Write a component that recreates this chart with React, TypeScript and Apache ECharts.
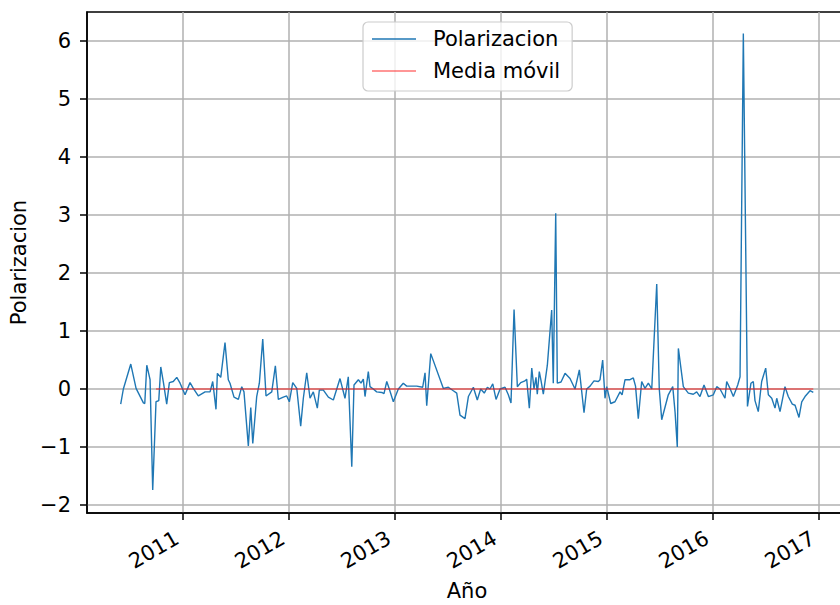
import React, { useEffect, useRef } from "react";
import * as echarts from "echarts";

// Decimal years of each observation
const years: number[] = [
  2010.412, 2010.437, 2010.507, 2010.557, 2010.626, 2010.639, 2010.658, 2010.689, 2010.714, 2010.745,
  2010.771, 2010.79, 2010.816, 2010.846, 2010.871, 2010.908, 2010.941, 2010.972, 2011.019, 2011.066,
  2011.097, 2011.144, 2011.208, 2011.255, 2011.28, 2011.311, 2011.324, 2011.356, 2011.396, 2011.427,
  2011.443, 2011.481, 2011.522, 2011.554, 2011.575, 2011.616, 2011.639, 2011.658, 2011.695, 2011.72,
  2011.752, 2011.783, 2011.837, 2011.871, 2011.899, 2011.946, 2011.978, 2012.003, 2012.035, 2012.073,
  2012.11, 2012.135, 2012.167, 2012.198, 2012.229, 2012.267, 2012.286, 2012.324, 2012.371, 2012.418,
  2012.481, 2012.528, 2012.559, 2012.592, 2012.613, 2012.654, 2012.679, 2012.701, 2012.717, 2012.748,
  2012.764, 2012.795, 2012.827, 2012.875, 2012.896, 2012.922, 2012.946, 2012.984, 2013.031, 2013.078,
  2013.11, 2013.205, 2013.261, 2013.283, 2013.299, 2013.337, 2013.456, 2013.503, 2013.55, 2013.582,
  2013.613, 2013.66, 2013.692, 2013.739, 2013.776, 2013.808, 2013.842, 2013.871, 2013.896, 2013.922,
  2013.953, 2013.991, 2014.038, 2014.069, 2014.094, 2014.123, 2014.154, 2014.186, 2014.226, 2014.242,
  2014.267, 2014.29, 2014.311, 2014.33, 2014.342, 2014.361, 2014.377, 2014.399, 2014.437, 2014.478,
  2014.493, 2014.516, 2014.531, 2014.566, 2014.604, 2014.651, 2014.698, 2014.739, 2014.783, 2014.808,
  2014.84, 2014.877, 2014.918, 2014.934, 2014.959, 2014.981, 2014.997, 2015.035, 2015.075, 2015.123,
  2015.142, 2015.17, 2015.217, 2015.248, 2015.269, 2015.295, 2015.327, 2015.358, 2015.39, 2015.422,
  2015.469, 2015.493, 2015.516, 2015.578, 2015.62, 2015.642, 2015.663, 2015.673, 2015.72, 2015.767,
  2015.814, 2015.846, 2015.877, 2015.915, 2015.956, 2016.003, 2016.035, 2016.066, 2016.113, 2016.129,
  2016.16, 2016.192, 2016.233, 2016.255, 2016.286, 2016.325, 2016.358, 2016.38, 2016.396, 2016.427,
  2016.459, 2016.497, 2016.522, 2016.554, 2016.585, 2016.601, 2016.632, 2016.679, 2016.71, 2016.748,
  2016.774, 2016.811, 2016.837, 2016.868, 2016.915, 2016.946,
];

const polarizacion: number[] = [
  -0.26, 0.0, 0.43, 0.01, -0.24, -0.25, 0.41, 0.16, -1.74, -0.22,
  -0.2, 0.38, 0.1, -0.26, 0.11, 0.13, 0.2, 0.1, -0.1, 0.11,
  0.01, -0.12, -0.05, -0.05, 0.13, -0.35, 0.27, 0.2, 0.8, 0.16,
  0.1, -0.14, -0.18, 0.04, -0.05, -0.98, -0.32, -0.94, -0.13, 0.1,
  0.86, -0.12, -0.05, 0.4, -0.18, -0.14, -0.12, -0.22, 0.11, 0.01,
  -0.64, -0.16, 0.28, -0.16, -0.05, -0.33, -0.02, -0.02, -0.14, -0.19,
  0.18, -0.16, 0.21, -1.34, 0.07, 0.16, 0.1, 0.17, -0.13, 0.3,
  0.04, 0.0, -0.05, -0.06, -0.08, 0.13, 0.0, -0.22, 0.0, 0.1,
  0.05, 0.05, 0.03, 0.28, -0.29, 0.61, 0.01, 0.03, -0.03, -0.07,
  -0.45, -0.51, -0.13, 0.03, -0.19, 0.0, -0.07, 0.03, 0.0, 0.09,
  -0.18, 0.0, 0.03, -0.1, -0.24, 1.37, 0.04, 0.11, 0.14, 0.17,
  -0.33, 0.36, 0.0, 0.2, -0.09, 0.3, 0.15, -0.09, 0.41, 1.36,
  0.1, 3.03, 0.1, 0.12, 0.27, 0.18, 0.0, 0.33, -0.41, 0.0,
  0.05, 0.14, 0.13, 0.16, 0.5, -0.16, 0.04, -0.25, -0.22, -0.05,
  -0.1, 0.16, 0.16, 0.19, 0.05, -0.51, 0.13, 0.01, 0.1, 0.0,
  1.81, 0.0, -0.53, -0.1, 0.04, -0.4, -1.0, 0.7, 0.04, -0.07,
  -0.09, -0.05, -0.13, 0.07, -0.13, -0.1, 0.04, 0.0, -0.16, 0.13,
  0.01, -0.13, 0.07, 0.21, 6.13, -0.3, 0.1, 0.13, -0.2, -0.39,
  0.13, 0.36, -0.1, -0.16, -0.33, -0.16, -0.39, 0.04, -0.13, -0.26,
  -0.28, -0.49, -0.22, -0.13, -0.03, -0.06,
];

// Moving average (flat near zero)
const mediaYears: number[] = [2010.745, 2011.5, 2012.5, 2013.5, 2014.5, 2015.5, 2016.5, 2016.946];
const mediaMovil: number[] = [0.0, 0.0, 0.0, 0.0, 0.0, 0.0, 0.0, 0.0];

const xTicks: number[] = [2011, 2012, 2013, 2014, 2015, 2016, 2017];
const yTicks: number[] = [-2, -1, 0, 1, 2, 3, 4, 5, 6];

const FONT = "DejaVu Sans";

export default function App() {
  const ref = useRef<HTMLDivElement>(null);
  useEffect(() => {
    if (!ref.current) return;
    const chart = echarts.init(ref.current, null, { renderer: "svg" });
    const gridColor = "#b0b0b0";
    chart.setOption({
      animation: false,
      backgroundColor: "#ffffff",
      textStyle: { fontFamily: FONT },
      grid: {
        left: 87,
        top: 12,
        width: 760,
        height: 501,
        show: true,
        borderColor: "#000",
        borderWidth: 1.5,
        backgroundColor: "transparent",
        outerBoundsMode: "none",
        containLabel: false,
      },
      legend: {
        orient: "vertical",
        left: 363,
        top: 22,
        padding: [6, 12, 9, 9],
        itemWidth: 44,
        itemHeight: 1.5,
        itemGap: 10,
        icon: "rect",
        backgroundColor: "rgba(255,255,255,0.8)",
        borderColor: "#cccccc",
        borderWidth: 1.2,
        borderRadius: 5,
        textStyle: { fontFamily: FONT, fontSize: 21, color: "#000", lineHeight: 22, padding: [0, 0, 0, 12] },
        data: ["Polarizacion", "Media móvil"],
      },
      xAxis: {
        type: "value",
        min: 2010.094,
        max: 2017.264,
        name: "Año",
        nameLocation: "middle",
        nameGap: 67,
        nameTextStyle: { fontFamily: FONT, fontSize: 21, color: "#000" },
        axisLine: { show: true, onZero: false, lineStyle: { color: "#000", width: 1.5 } },
        axisTick: { show: true, length: 7, customValues: xTicks, lineStyle: { color: "#000", width: 1.5 } },
        axisLabel: {
          customValues: xTicks,
          rotate: 30,
          margin: 20,
          padding: [0, 7, 0, 0],
          fontFamily: FONT,
          fontSize: 21,
          color: "#000",
          formatter: (v: number) => String(Math.round(v)),
        },
        splitLine: { show: true, customValues: xTicks, lineStyle: { color: gridColor, width: 1.5 } },
      },
      yAxis: {
        type: "value",
        min: -2.138,
        max: 6.5,
        name: "Polarizacion",
        nameLocation: "middle",
        nameGap: 55,
        nameTextStyle: { fontFamily: FONT, fontSize: 21, color: "#000" },
        axisLine: { show: true, onZero: false, lineStyle: { color: "#000", width: 1.5 } },
        axisTick: { show: true, length: 7, customValues: yTicks, lineStyle: { color: "#000", width: 1.5 } },
        axisLabel: {
          customValues: yTicks,
          margin: 16,
          fontFamily: FONT,
          fontSize: 21,
          color: "#000",
          formatter: (v: number) => (v < 0 ? "\u2212" + Math.abs(Math.round(v)) : String(Math.round(v))),
        },
        splitLine: { show: true, customValues: yTicks, lineStyle: { color: gridColor, width: 1.5 } },
      },
      series: [
        {
          name: "Polarizacion",
          type: "line",
          symbol: "none",
          data: years.map((y, i) => [y, polarizacion[i]]),
          lineStyle: { color: "#1f77b4", width: 1.4 },
          itemStyle: { color: "#1f77b4" },
          z: 3,
        },
        {
          name: "Media móvil",
          type: "line",
          symbol: "none",
          data: mediaYears.map((y, i) => [y, mediaMovil[i]]),
          lineStyle: { color: "rgba(255,0,0,0.55)", width: 1.4 },
          itemStyle: { color: "rgba(255,0,0,0.55)" },
          z: 4,
        },
      ],
    });
    return () => chart.dispose();
  }, []);
  return <div ref={ref} style={{ position: "absolute", left: 0, top: 0, width: 840, height: 605 }} />;
}
